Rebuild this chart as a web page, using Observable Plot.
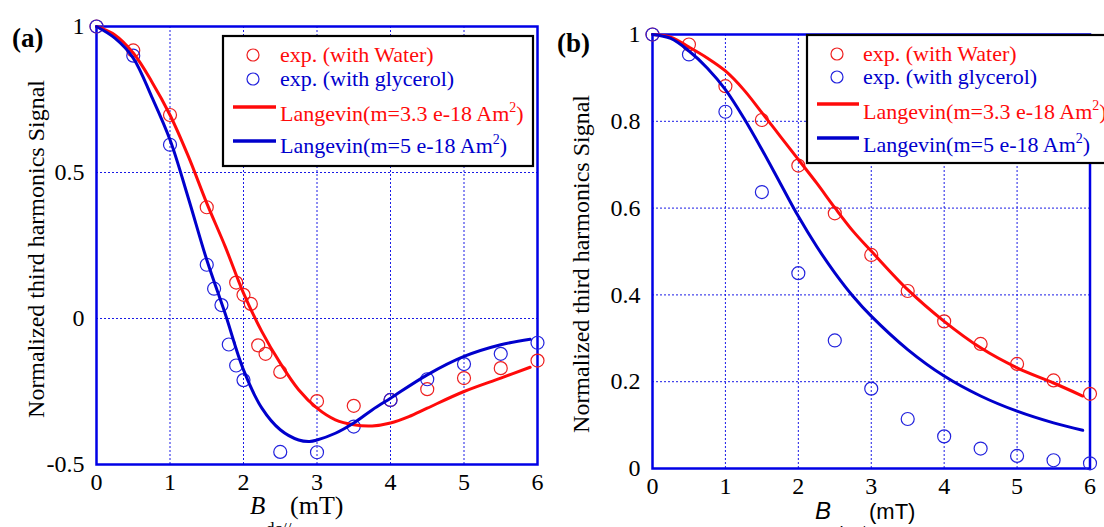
<!DOCTYPE html>
<html><head><meta charset="utf-8">
<script src="https://cdn.jsdelivr.net/npm/d3@7"></script>
<script src="https://cdn.jsdelivr.net/npm/@observablehq/plot@0.6"></script>
<style>
html,body{margin:0;padding:0;background:#fff;overflow:hidden;width:1104px;height:527px}
#root{position:relative;width:1104px;height:527px;overflow:hidden;font-family:"Liberation Serif","Times New Roman",serif}
.panel{position:absolute;top:0}
#overlay{position:absolute;left:0;top:0;pointer-events:none}
</style></head><body><div id="root"></div>
<script>
// ---------- data ----------
const xTicks = [0, 1, 2, 3, 4, 5, 6];
const yTicksA = [-0.5, 0, 0.5, 1];
const yTicksB = [0, 0.2, 0.4, 0.6, 0.8, 1];

// panel (a): B_dc parallel
const waterAx = [0, 0.5, 1, 1.5, 1.9, 2.0, 2.1, 2.2, 2.3, 2.5, 3, 3.5, 4, 4.5, 5, 5.5, 6];
const waterAy = [1, 0.918, 0.697, 0.381, 0.123, 0.081, 0.050, -0.092, -0.121, -0.183, -0.283, -0.299, -0.279, -0.242, -0.204, -0.170, -0.144];
const glyAx = [0, 0.5, 1, 1.5, 1.6, 1.7, 1.8, 1.9, 2.0, 2.5, 3, 3.5, 4, 4.5, 5, 5.5, 6];
const glyAy = [1, 0.900, 0.595, 0.184, 0.102, 0.046, -0.089, -0.161, -0.211, -0.457, -0.458, -0.370, -0.279, -0.208, -0.156, -0.121, -0.083];
const langRedAx = [0, 0.25, 0.5, 0.75, 1, 1.25, 1.5, 1.75, 2, 2.25, 2.5, 2.75, 3, 3.25, 3.5, 3.75, 4, 4.25, 4.5, 5, 5.5, 5.9];
const langRedAy = [1, 0.971, 0.909, 0.812, 0.697, 0.555, 0.395, 0.247, 0.087, -0.045, -0.153, -0.244, -0.307, -0.347, -0.364, -0.368, -0.358, -0.336, -0.307, -0.250, -0.204, -0.167];
const langBlueAx = [0, 0.25, 0.5, 0.75, 1, 1.25, 1.5, 1.75, 2, 2.25, 2.5, 2.75, 2.9, 3, 3.25, 3.5, 3.75, 4, 4.5, 5, 5.5, 5.9];
const langBlueAy = [1, 0.960, 0.892, 0.760, 0.612, 0.412, 0.201, 0.017, -0.176, -0.307, -0.381, -0.416, -0.421, -0.416, -0.393, -0.358, -0.313, -0.273, -0.193, -0.130, -0.090, -0.071];

// panel (b): B_dc perpendicular
const bx = [0, 0.5, 1, 1.5, 2, 2.5, 3, 3.5, 4, 4.5, 5, 5.5, 6];
const waterBy = [1, 0.977, 0.881, 0.803, 0.698, 0.588, 0.492, 0.409, 0.339, 0.287, 0.241, 0.203, 0.172];
const glyBy = [1, 0.954, 0.822, 0.637, 0.450, 0.295, 0.184, 0.114, 0.074, 0.046, 0.029, 0.019, 0.012];
const langBx = [0, 0.25, 0.5, 0.75, 1, 1.25, 1.5, 1.75, 2, 2.25, 2.5, 2.75, 3, 3.5, 4, 4.5, 5, 5.5, 5.9];
const langRedBy = [1, 0.994, 0.971, 0.946, 0.916, 0.873, 0.820, 0.766, 0.712, 0.658, 0.601, 0.547, 0.501, 0.412, 0.339, 0.278, 0.232, 0.197, 0.167];
const langBlueBy = [1, 0.991, 0.962, 0.923, 0.873, 0.808, 0.735, 0.658, 0.581, 0.512, 0.451, 0.397, 0.351, 0.274, 0.213, 0.167, 0.132, 0.105, 0.088];

const legendLabels = ["exp. (with Water)", "exp. (with glycerol)", "Langevin(m=3.3 e-18 Am", "Langevin(m=5 e-18 Am"];

// ---------- helpers ----------
const RED = "#ff0a0a", BLUE = "#0000cc", FRAME = "#0000e6", GRID = "#1a1ae6";
const DOTRED = "#ee2020", DOTBLUE = "#2222dd";
const zip = (xs, ys) => xs.map((x, i) => ({x, y: ys[i]}));

function panel({yDomain, yTicks, mt, mb, ml, mr, water, gly, red, blue}) {
  return Plot.plot({
    width: 552, height: 527,
    marginTop: mt, marginBottom: mb, marginLeft: ml, marginRight: mr,
    style: {fontFamily: "'Liberation Serif','Times New Roman',serif", fontSize: "24px", color: "#000", background: "transparent", overflow: "visible"},
    x: {domain: [0, 6]},
    y: {domain: yDomain},
    marks: [
      Plot.gridX(xTicks, {stroke: GRID, strokeOpacity: 1, strokeWidth: 1, strokeDasharray: "2,2"}),
      Plot.gridY(yTicks, {stroke: GRID, strokeOpacity: 1, strokeWidth: 1, strokeDasharray: "2,2"}),
      Plot.frame({stroke: FRAME, strokeWidth: 2.5}),
      Plot.axisX(xTicks, {tickSize: 0, tickPadding: 8, tickFormat: d => String(d), label: null, fill: "#000"}),
      Plot.axisY(yTicks, {tickSize: 0, tickPadding: 12, tickFormat: d => String(d), label: null, fill: "#000"}),
      Plot.dot(water, {x: "x", y: "y", r: 6.5, stroke: DOTRED, fill: "none", strokeWidth: 1.2}),
      Plot.dot(gly, {x: "x", y: "y", r: 6.5, stroke: DOTBLUE, fill: "none", strokeWidth: 1.2}),
      Plot.line(red, {x: "x", y: "y", stroke: RED, strokeWidth: 3, curve: "catmull-rom"}),
      Plot.line(blue, {x: "x", y: "y", stroke: BLUE, strokeWidth: 3, curve: "catmull-rom"})
    ]
  });
}

const root = document.getElementById("root");

const pa = panel({
  yDomain: [-0.5, 1], yTicks: yTicksA, mt: 26, mb: 63, ml: 96, mr: 15,
  water: zip(waterAx, waterAy), gly: zip(glyAx, glyAy),
  red: zip(langRedAx, langRedAy), blue: zip(langBlueAx, langBlueAy)
});
pa.classList.add("panel"); pa.style.left = "0px";
root.appendChild(pa);

const pb = panel({
  yDomain: [0, 1], yTicks: yTicksB, mt: 34, mb: 59, ml: 100, mr: 14.5,
  water: zip(bx, waterBy), gly: zip(bx, glyBy),
  red: zip(langBx, langRedBy), blue: zip(langBx, langBlueBy)
});
pb.classList.add("panel"); pb.style.left = "552px";
root.appendChild(pb);

// ---------- overlay: labels and legends ----------
const NS = "http://www.w3.org/2000/svg";
const ov = document.createElementNS(NS, "svg");
ov.setAttribute("id", "overlay");
ov.setAttribute("width", 1104); ov.setAttribute("height", 527);
root.appendChild(ov);
function el(tag, attrs, parent = ov) {
  const e = document.createElementNS(NS, tag);
  for (const k in attrs) e.setAttribute(k, attrs[k]);
  parent.appendChild(e);
  return e;
}
function text(attrs, str, parent = ov) { const t = el("text", attrs, parent); if (str != null) t.textContent = str; return t; }
function tspan(parent, attrs, str) { const t = el("tspan", attrs, parent); t.textContent = str; return t; }

const SERIF = "'Liberation Serif','Times New Roman',serif";
const SANS = "'Liberation Sans',Arial,sans-serif";

// panel letters
text({x: 12, y: 47, "font-family": SERIF, "font-size": 27, "font-weight": "bold"}, "(a)");
text({x: 557, y: 52, "font-family": SERIF, "font-size": 27, "font-weight": "bold"}, "(b)");

// y titles
text({transform: "translate(36,249) rotate(-90)", "text-anchor": "middle", "dominant-baseline": "central", "font-family": SERIF, "font-size": 24}, "Normalized third harmonics Signal");
text({transform: "translate(581,264) rotate(-90)", "text-anchor": "middle", "dominant-baseline": "central", "font-family": SERIF, "font-size": 24}, "Normalized third harmonics Signal");

// x titles (B with subscript, unit)
text({x: 250, y: 514, "font-family": SERIF, "font-size": 25, "font-style": "italic"}, "B");
text({x: 266, y: 534, "font-family": SERIF, "font-size": 17}, "dc//");
text({x: 290, y: 514, "font-family": SERIF, "font-size": 26}, "(mT)");

text({x: 815, y: 519, "font-family": SANS, "font-size": 24, "font-style": "italic"}, "B");
text({x: 834, y: 538, "font-family": SANS, "font-size": 17}, "dc \u22A5");
text({x: 869, y: 519, "font-family": SANS, "font-size": 22}, "(mT)");

// legends
function legend(box, circ, lines, textX, baselines) {
  el("rect", {x: box[0], y: box[1], width: box[2], height: box[3], fill: "#fff", stroke: "#000", "stroke-width": 2.2});
  el("circle", {cx: circ[0], cy: circ[1], r: 6, fill: "none", stroke: DOTRED, "stroke-width": 1.2});
  el("circle", {cx: circ[0], cy: circ[2], r: 6, fill: "none", stroke: DOTBLUE, "stroke-width": 1.2});
  el("line", {x1: lines[0], x2: lines[1], y1: lines[2], y2: lines[2], stroke: RED, "stroke-width": 3.5});
  el("line", {x1: lines[0], x2: lines[1], y1: lines[3], y2: lines[3], stroke: BLUE, "stroke-width": 3.5});
  const cols = [RED, BLUE, RED, BLUE];
  legendLabels.forEach((s, i) => {
    const t = text({x: textX, y: baselines[i], "font-family": SERIF, "font-size": 22, fill: cols[i]});
    tspan(t, {}, s);
    if (i >= 2) {
      tspan(t, {dy: -9, "font-size": 14}, "2");
      tspan(t, {dy: 9}, ")");
    }
  });
}
legend([223, 36, 310, 130], [253, 55, 79], [233, 276, 107, 141], 280, [62, 86, 121, 153]);
legend([807, 35, 320, 128], [837, 54, 77], [817, 859, 104, 138], 863, [61, 84, 119, 152]);
</script></body></html>
